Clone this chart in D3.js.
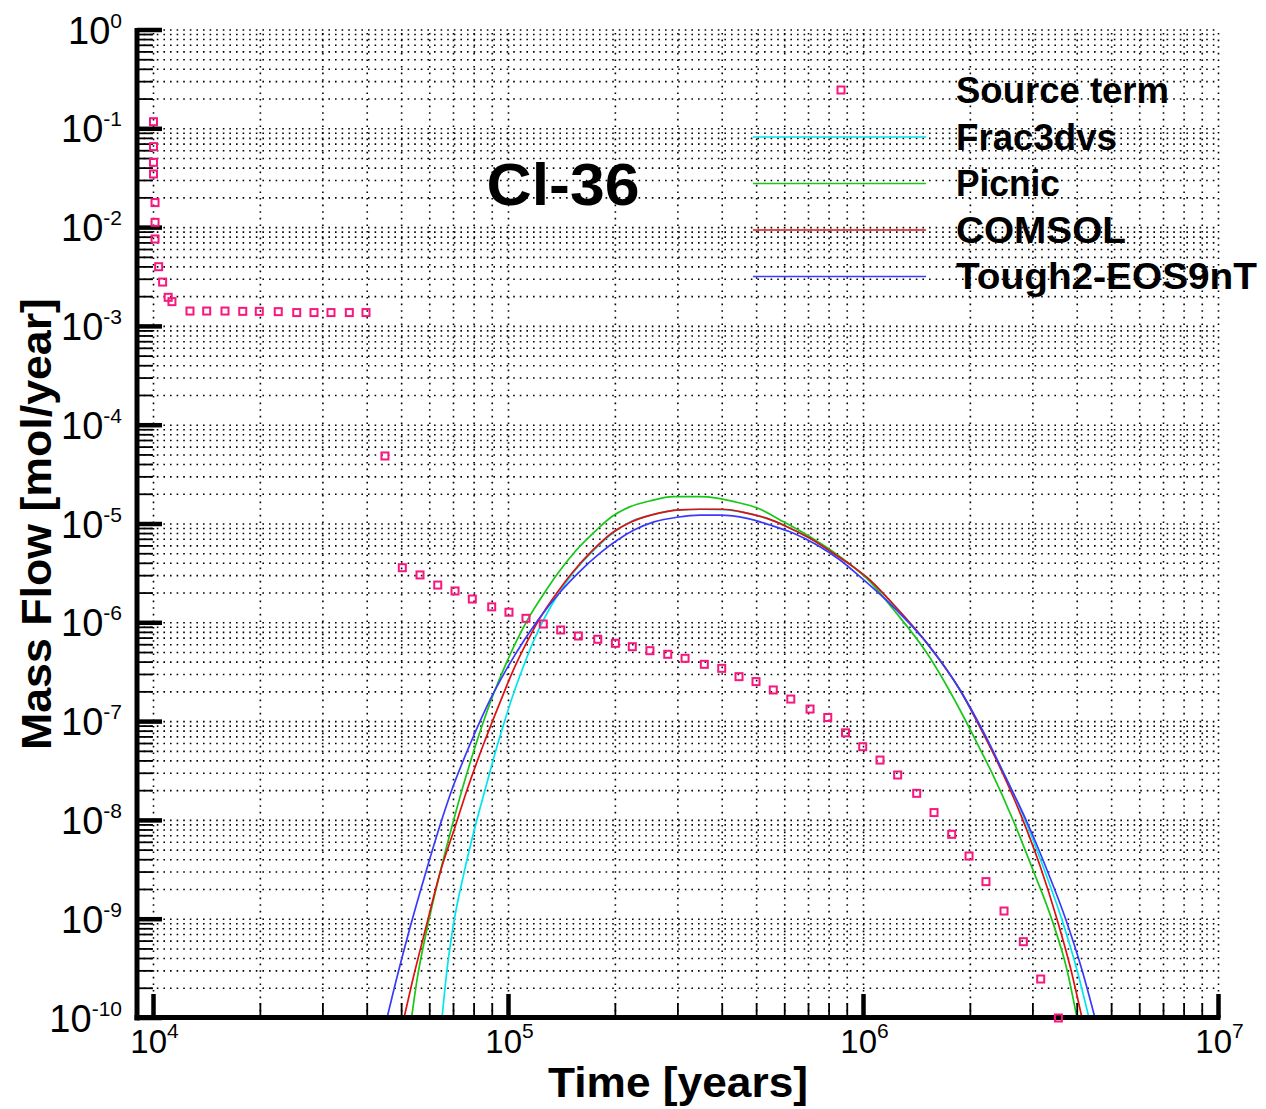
<!DOCTYPE html>
<html>
<head>
<meta charset="utf-8">
<script src="https://cdn.jsdelivr.net/npm/d3@7"></script>
<style>
  body { margin: 0; background: #fff; }
  text { font-family: "Liberation Sans", Arial, sans-serif; fill: #000; }
</style>
</head>
<body>
<script>
// source term (pink squares)
var sourceTime = [10000, 10000, 10000, 10000, 10100, 10100, 10100, 10340, 10610, 11000, 11270,
  12670, 14120, 15900, 17840, 19860, 22460, 25320, 28320, 31620, 35610, 39680,
  44870, 50220, 56330, 63190, 70690, 79070, 89680, 100300, 112000, 125300, 140300, 157300,
  178400, 200000, 223200, 250300, 280900, 314300, 356100, 398700, 446000, 498000, 557000,
  624000, 707000, 793000, 890000, 995000, 1113000, 1248000, 1412000, 1580000, 1772000,
  1983000, 2213000, 2488000, 2820000, 3156000, 3540000];
var sourceFlow = [0.118, 0.066, 0.0458, 0.0349, 0.0179, 0.0113, 0.00767, 0.00402, 0.00281, 0.00197, 0.00178,
  0.00143, 0.00143, 0.00143, 0.00142, 0.00142, 0.00141, 0.00138, 0.00138, 0.00138, 0.00138, 0.00138,
  4.88e-5, 3.61e-6, 3.05e-6, 2.41e-6, 2.10e-6, 1.74e-6, 1.45e-6, 1.28e-6, 1.11e-6, 9.72e-7, 8.46e-7, 7.35e-7,
  6.81e-7, 6.2e-7, 5.73e-7, 5.22e-7, 4.80e-7, 4.37e-7, 3.8e-7, 3.46e-7, 2.85e-7, 2.54e-7, 2.09e-7,
  1.69e-7, 1.34e-7, 1.10e-7, 7.7e-8, 5.57e-8, 4.08e-8, 2.88e-8, 1.88e-8, 1.20e-8, 7.23e-9,
  4.36e-9, 2.40e-9, 1.21e-9, 5.92e-10, 2.48e-10, 1.0e-10];

var fracTime = [64970, 66450, 69780, 74930, 80470, 85870, 93410, 97740, 101900, 108400, 118000, 125500,
  140600, 151900, 174100, 198300, 222800, 253600, 304100, 346200, 402000, 469700, 534700, 608700,
  706700, 820500, 934100, 1043000, 1211000, 1510000, 1870000, 2171000, 2488000, 2850000, 3225000,
  3624000, 3994000, 4318000];
var fracFlow = [1.0e-10, 2.26e-10, 8.34e-10, 2.94e-9, 8.57e-9, 2.03e-8, 6.07e-8, 1.04e-7, 1.66e-7, 3.10e-7, 6.70e-7, 1.07e-6,
  2.15e-6, 3.19e-6, 5.46e-6, 8.3e-6, 1.07e-5, 1.24e-5, 1.39e-5, 1.41e-5, 1.40e-5, 1.29e-5, 1.14e-5, 9.40e-6,
  7.16e-6, 5.08e-6, 3.70e-6, 2.71e-6, 1.55e-6, 6.21e-7, 2.09e-7, 7.67e-8, 2.95e-8, 1.01e-8, 3.22e-9,
  9.82e-10, 3.06e-10, 1.0e-10];

var picnicTime = [53310, 55060, 59100, 64120, 69230, 73960, 81160, 85310, 89390, 95870, 105700, 113100,
  127800, 137900, 155400, 176900, 195600, 219400, 249700, 291600, 346200, 386700, 448800, 501200,
  581800, 693100, 820500, 934100, 1043000, 1211000, 1510000, 1870000, 2088000, 2301000, 2637000,
  3002000, 3396000, 3744000, 3994000];
var picnicFlow = [1.0e-10, 2.26e-10, 8.34e-10, 2.94e-9, 8.57e-9, 2.03e-8, 6.07e-8, 1.04e-7, 1.66e-7, 3.10e-7, 6.70e-7, 1.07e-6,
  2.15e-6, 3.19e-6, 5.46e-6, 8.69e-6, 1.19e-5, 1.49e-5, 1.71e-5, 1.89e-5, 1.89e-5, 1.83e-5, 1.63e-5, 1.46e-5,
  1.10e-5, 7.74e-6, 5.25e-6, 3.70e-6, 2.61e-6, 1.38e-6, 4.91e-7, 1.31e-7, 6.07e-8, 3.02e-8, 1.01e-8,
  3.15e-9, 9.82e-10, 3.06e-10, 1.0e-10];

var comsolTime = [50770, 53480, 58570, 64120, 70690, 76410, 85310, 90420, 95270, 102300, 113500, 121800,
  138800, 151000, 173000, 195600, 221400, 252000, 304100, 346200, 402000, 469700, 534700, 608700,
  706700, 820500, 934100, 1043000, 1211000, 1510000, 1870000, 2171000, 2472000, 2796000, 3144000,
  3486000, 3817000, 4126000];
var comsolFlow = [1.0e-10, 2.26e-10, 8.34e-10, 2.94e-9, 8.57e-9, 2.03e-8, 6.07e-8, 1.04e-7, 1.66e-7, 3.10e-7, 6.70e-7, 1.07e-6,
  2.15e-6, 3.19e-6, 5.46e-6, 8.11e-6, 1.05e-5, 1.23e-5, 1.39e-5, 1.41e-5, 1.41e-5, 1.29e-5, 1.14e-5, 9.40e-6,
  7.16e-6, 5.08e-6, 3.70e-6, 2.71e-6, 1.55e-6, 6.21e-7, 2.09e-7, 7.67e-8, 2.95e-8, 1.06e-8, 3.45e-9,
  1.08e-9, 3.36e-10, 1.0e-10];

var toughTime = [45470, 48050, 52850, 58420, 63910, 69230, 78190, 88700, 97320, 110800, 121100,
  141500, 157000, 181000, 202800, 225700, 257000, 298200, 346200, 394300, 469700, 545200, 632900,
  739600, 858600, 977500, 1211000, 1510000, 1870000, 2185000, 2520000, 2887000, 3288000, 3719000,
  4126000, 4489000];
var toughFlow = [1.0e-10, 2.26e-10, 8.34e-10, 2.94e-9, 8.57e-9, 2.03e-8, 6.07e-8, 1.66e-7, 3.10e-7, 6.70e-7, 1.07e-6,
  2.15e-6, 3.19e-6, 5.08e-6, 6.89e-6, 8.69e-6, 1.05e-5, 1.17e-5, 1.23e-5, 1.23e-5, 1.14e-5, 9.77e-6, 8.11e-6,
  6.13e-6, 4.32e-6, 2.93e-6, 1.46e-6, 6.21e-7, 2.09e-7, 7.67e-8, 2.69e-8, 9.64e-9, 3.15e-9, 9.82e-10,
  3.06e-10, 1.0e-10];

var legendNames = ["Source term", "Frac3dvs", "Picnic", "COMSOL", "Tough2-EOS9nT"];
var xTickExp = [4, 5, 6, 7];
var yTickExp = [0, -1, -2, -3, -4, -5, -6, -7, -8, -9, -10];

var lines = [
  {name: "Frac3dvs", color: "#00e6ee", t: fracTime, v: fracFlow},
  {name: "Picnic", color: "#18c818", t: picnicTime, v: picnicFlow},
  {name: "COMSOL", color: "#e01010", t: comsolTime, v: comsolFlow},
  {name: "Tough2-EOS9nT", color: "#3a3aff", t: toughTime, v: toughFlow}
];
var pink = "#f8167f";
var legendWidth = [213, 161, 104, 170, 301];

var W = 1266, H = 1109;
var x0 = 137, x1 = 1218.5, y0 = 1018, y1 = 30;

var x = d3.scaleLog().domain([8985, 1e7]).range([x0, x1]);
var y = d3.scaleLog().domain([1e-10, 1]).range([y0, y1]);

var svg = d3.select("body").append("svg")
  .attr("width", W)
  .attr("height", H);

svg.append("defs").append("clipPath").attr("id", "plot")
  .append("rect").attr("x", x0).attr("y", y1 - 2).attr("width", x1 - x0 + 2).attr("height", y0 - y1 + 2);

// grid values, majors and minors
var xGrid = [], yGrid = [];
for (var k = 4; k < 7; k++) for (var m = 1; m < 10; m++) xGrid.push(m * Math.pow(10, k));
xGrid.push(1e7);
for (var k = -10; k < 0; k++) for (var m = 1; m < 10; m++) yGrid.push(m * Math.pow(10, k));
yGrid.push(1);

var grid = svg.append("g").attr("stroke", "#000").attr("stroke-width", 1.6).attr("stroke-dasharray", "1.6,5");
grid.selectAll(".gx").data(xGrid).enter().append("line")
  .attr("x1", function(d) { return x(d); }).attr("x2", function(d) { return x(d); })
  .attr("y1", y0).attr("y2", y1);
grid.selectAll(".gy").data(yGrid).enter().append("line")
  .attr("x1", x0).attr("x2", x1)
  .attr("y1", function(d) { return y(d); }).attr("y2", function(d) { return y(d); });

// model curves
var line = d3.line()
  .x(function(d) { return x(d[0]); })
  .y(function(d) { return y(d[1]); })
  .curve(d3.curveMonotoneX);

svg.append("g").attr("clip-path", "url(#plot)")
  .selectAll("path").data(lines).enter().append("path")
  .attr("fill", "none")
  .attr("stroke", function(d) { return d.color; })
  .attr("stroke-width", 1.7)
  .attr("d", function(d) { return line(d.t.map(function(t, i) { return [t, d.v[i]]; })); });

// axes
var ax = svg.append("g").attr("stroke", "#000");
ax.append("line").attr("x1", x0).attr("x2", x0).attr("y1", y1 - 2).attr("y2", y0 + 2.5).attr("stroke-width", 5);
ax.append("line").attr("x1", x0 - 2.5).attr("x2", x1 + 2).attr("y1", y0 - 0.5).attr("y2", y0 - 0.5).attr("stroke-width", 5);

var yMinor = yGrid.filter(function(d) { return Math.abs(Math.log10(d) - Math.round(Math.log10(d))) > 1e-6; });
var xMinor = xGrid.filter(function(d) { return Math.abs(Math.log10(d) - Math.round(Math.log10(d))) > 1e-6; });

ax.selectAll(".ymin").data(yMinor).enter().append("line")
  .attr("x1", x0).attr("x2", x0 + 16)
  .attr("y1", function(d) { return y(d); }).attr("y2", function(d) { return y(d); })
  .attr("stroke-width", 1.8);
ax.selectAll(".ymaj").data(yTickExp).enter().append("line")
  .attr("x1", x0).attr("x2", x0 + 25)
  .attr("y1", function(d) { return y(Math.pow(10, d)); }).attr("y2", function(d) { return y(Math.pow(10, d)); })
  .attr("stroke-width", 4.5);
ax.selectAll(".xmin").data(xMinor).enter().append("line")
  .attr("x1", function(d) { return x(d); }).attr("x2", function(d) { return x(d); })
  .attr("y1", y0).attr("y2", y0 - 15)
  .attr("stroke-width", 1.8);
ax.selectAll(".xmaj").data(xTickExp).enter().append("line")
  .attr("x1", function(d) { return x(Math.pow(10, d)); }).attr("x2", function(d) { return x(Math.pow(10, d)); })
  .attr("y1", y0).attr("y2", y0 - 24)
  .attr("stroke-width", 4.5);

// source term markers
svg.append("g").selectAll("rect").data(sourceTime).enter().append("rect")
  .attr("x", function(d) { return x(d) - 3.5; })
  .attr("y", function(d, i) { return y(sourceFlow[i]) - 3.5; })
  .attr("width", 7).attr("height", 7)
  .attr("fill", "none").attr("stroke", pink).attr("stroke-width", 2);

// tick labels
var yl = svg.append("g").selectAll("text").data(yTickExp).enter().append("text")
  .attr("x", 122)
  .attr("y", function(d) { return y(Math.pow(10, d)) + 13.5; })
  .attr("text-anchor", "end")
  .attr("font-size", 38)
  .text("10");
yl.append("tspan").attr("dy", -16).attr("font-size", 21).text(function(d) { return d; });

var xl = svg.append("g").selectAll("text").data(xTickExp).enter().append("text")
  .attr("x", function(d) { return x(Math.pow(10, d)) + 1; })
  .attr("y", 1053)
  .attr("text-anchor", "middle")
  .attr("font-size", 33)
  .text("10");
xl.append("tspan").attr("dy", -15).attr("font-size", 21).text(function(d) { return d; });

// titles
svg.append("text")
  .attr("transform", "translate(51,524) rotate(-90)")
  .attr("text-anchor", "middle")
  .attr("font-size", 42).attr("font-weight", "bold")
  .attr("textLength", 452).attr("lengthAdjust", "spacingAndGlyphs")
  .text("Mass Flow [mol/year]");

svg.append("text")
  .attr("x", 678).attr("y", 1097)
  .attr("text-anchor", "middle")
  .attr("font-size", 42).attr("font-weight", "bold")
  .attr("textLength", 260).attr("lengthAdjust", "spacingAndGlyphs")
  .text("Time [years]");

svg.append("text")
  .attr("x", 563).attr("y", 205)
  .attr("text-anchor", "middle")
  .attr("font-size", 59).attr("font-weight", "bold")
  .attr("textLength", 153).attr("lengthAdjust", "spacingAndGlyphs")
  .text("Cl-36");

// legend
var lg = svg.append("g");
lg.selectAll("text").data(legendNames).enter().append("text")
  .attr("x", 956)
  .attr("y", function(d, i) { return 103 + i * 46.5; })
  .attr("font-size", 36).attr("font-weight", "bold")
  .attr("textLength", function(d, i) { return legendWidth[i]; })
  .attr("lengthAdjust", "spacingAndGlyphs")
  .text(function(d) { return d; });
lg.append("rect")
  .attr("x", 841 - 3.5).attr("y", 90 - 3.5).attr("width", 7).attr("height", 7)
  .attr("fill", "none").attr("stroke", pink).attr("stroke-width", 2);
lg.selectAll("line").data(lines).enter().append("line")
  .attr("x1", 753).attr("x2", 926)
  .attr("y1", function(d, i) { return 103 + (i + 1) * 46.5 - 12.5; })
  .attr("y2", function(d, i) { return 103 + (i + 1) * 46.5 - 12.5; })
  .attr("stroke", function(d) { return d.color; })
  .attr("stroke-width", 1.7);
</script>
</body>
</html>
